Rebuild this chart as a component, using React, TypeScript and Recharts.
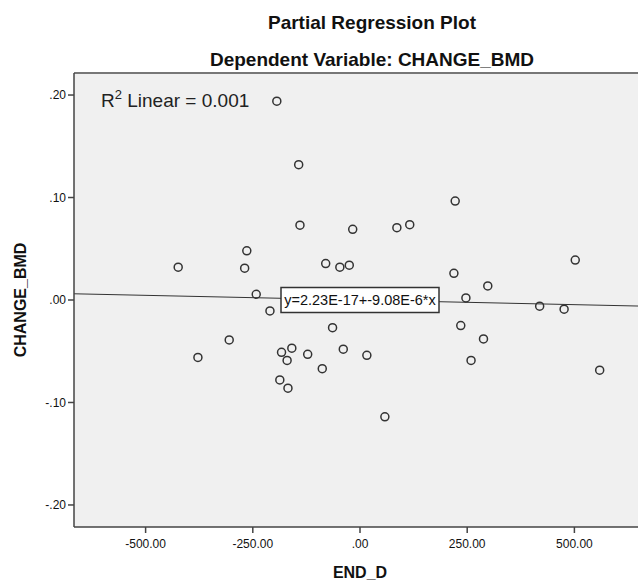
import React from "react"
import {
  ScatterChart,
  Scatter,
  XAxis,
  YAxis,
  CartesianGrid,
  ReferenceLine,
  ReferenceDot,
} from "recharts"

// partial residuals
const endD = [
  -194, -143, -140, -17, -264, -424, -269, -80, -47, -25, -242, 86, 116, 222, 502, 219, 298, 247, -210,
  -64, -305, -378, -183, -159, -170, -122, -39, -88, -187, -168, 419, 476, 235, 288, 259, 16, 58, 559,
]
const changeBmd = [
  0.194, 0.132, 0.073, 0.069, 0.048, 0.032, 0.031, 0.0355, 0.032, 0.034, 0.0056, 0.0706, 0.0735, 0.0965,
  0.039, 0.026, 0.0137, 0.002, -0.0107, -0.027, -0.039, -0.056, -0.051, -0.047, -0.059, -0.053, -0.048,
  -0.067, -0.078, -0.086, -0.006, -0.009, -0.025, -0.038, -0.059, -0.054, -0.114, -0.0685,
]
const xTicks = [-500, -250, 0, 250, 500]
const yTicks = [-0.2, -0.1, 0, 0.1, 0.2]
const intercept = 2.23e-17
const slope = -9.08e-6
const xDomain: [number, number] = [-667, 667]
const yDomain: [number, number] = [-0.2215, 0.2215]

const points = endD.map((x, i) => ({ x, y: changeBmd[i] }))

const FONT = "'Liberation Sans', Arial, sans-serif"

const fmtY = (v: number) => {
  if (Math.abs(v) < 1e-9) return ".00"
  return v.toFixed(2).replace("0.", ".")
}
const fmtX = (v: number) => (v === 0 ? ".00" : v.toFixed(2))

const OpenCircle = (props: any) => {
  const { cx, cy } = props
  if (cx == null || cy == null) return null
  return <circle cx={cx} cy={cy} r={4} fill="none" stroke="#333" strokeWidth={1.5} />
}

const EquationBox = (props: any) => {
  const { cx, cy } = props
  if (cx == null || cy == null) return null
  const w = 158
  const h = 25
  return (
    <g>
      <rect x={cx - w / 2} y={cy - h / 2} width={w} height={h} fill="#fff" stroke="#333" strokeWidth={1.5} />
      <text x={cx} y={cy + 5} textAnchor="middle" fontSize={14.5} fontFamily={FONT} fill="#111">
        y=2.23E-17+-9.08E-6*x
      </text>
    </g>
  )
}

export default function App() {
  return (
    <div style={{ position: "relative", width: 638, height: 581, overflow: "hidden", background: "#fff", fontFamily: FONT }}>
      <style>{`body{margin:0}`}</style>
      <ScatterChart width={660} height={581} margin={{ top: 73, right: 14, bottom: 30, left: 30 }}>
        <CartesianGrid fill="#f0f0f0" horizontal={false} vertical={false} />
        <XAxis
          type="number"
          dataKey="x"
          domain={xDomain}
          ticks={xTicks}
          tickFormatter={fmtX}
          allowDataOverflow
          height={24}
          stroke="#444"
          strokeWidth={1.5}
          tickSize={6}
          tickMargin={6}
          tick={{ fill: "#111", fontSize: 12, fontFamily: FONT }}
        />
        <YAxis
          type="number"
          dataKey="y"
          domain={yDomain}
          ticks={yTicks}
          tickFormatter={fmtY}
          allowDataOverflow
          width={44}
          stroke="#444"
          strokeWidth={1.5}
          tickSize={6}
          tick={{ fill: "#111", fontSize: 12, fontFamily: FONT }}
        />
        <ReferenceLine y={yDomain[1]} stroke="#777" strokeWidth={2} />
        <ReferenceLine
          segment={[
            { x: xDomain[0], y: intercept + slope * xDomain[0] },
            { x: xDomain[1], y: intercept + slope * xDomain[1] },
          ]}
          stroke="#333"
          strokeWidth={1}
        />
        <Scatter data={points} shape={OpenCircle} isAnimationActive={false} />
        <ReferenceDot x={0} y={intercept} shape={EquationBox} />
      </ScatterChart>
      <svg width={638} height={581} style={{ position: "absolute", left: 0, top: 0, pointerEvents: "none" }}>
        <text x={372} y={29} textAnchor="middle" fontSize={19} fontWeight="bold" fontFamily={FONT} fill="#111">
          Partial Regression Plot
        </text>
        <text x={372} y={66} textAnchor="middle" fontSize={19} fontWeight="bold" fontFamily={FONT} fill="#111">
          Dependent Variable: CHANGE_BMD
        </text>
        <text x={101} y={107} fontSize={19} fontFamily={FONT} fill="#222">
          R<tspan dy={-8} fontSize={13}>2</tspan>
          <tspan dy={8}> Linear = 0.001</tspan>
        </text>
        <text x={360} y={578} textAnchor="middle" fontSize={16} fontWeight="bold" fontFamily={FONT} fill="#111">
          END_D
        </text>
        <text
          x={0}
          y={0}
          transform="translate(26,300) rotate(-90)"
          textAnchor="middle"
          fontSize={16}
          fontWeight="bold"
          fontFamily={FONT}
          fill="#111"
        >
          CHANGE_BMD
        </text>
      </svg>
    </div>
  )
}
